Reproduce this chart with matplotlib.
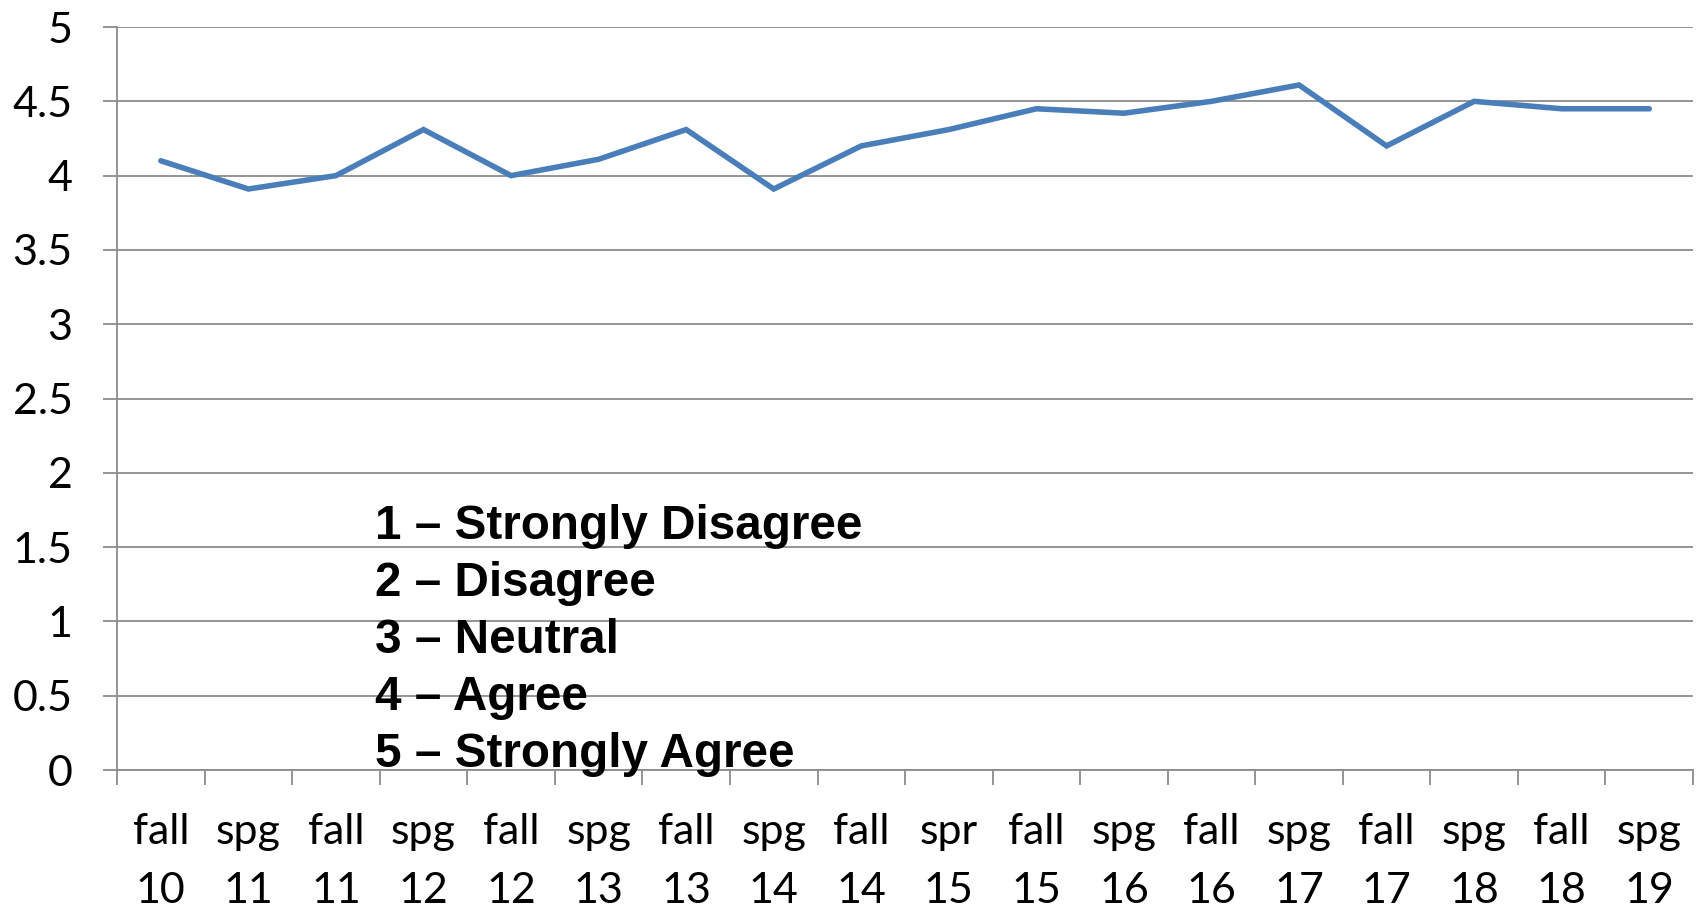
import matplotlib
matplotlib.use("Agg")
import matplotlib.pyplot as plt
import numpy as np

semesters = ["fall\n10", "spg\n11", "fall\n11", "spg\n12", "fall\n12", "spg\n13",
             "fall\n13", "spg\n14", "fall\n14", "spr\n15", "fall\n15", "spg\n16",
             "fall\n16", "spg\n17", "fall\n17", "spg\n18", "fall\n18", "spg\n19"]
scores = [4.10, 3.91, 4.00, 4.31, 4.00, 4.11, 4.31, 3.91, 4.20, 4.31,
          4.45, 4.42, 4.50, 4.61, 4.20, 4.50, 4.45, 4.45]
y_ticks = [0, 0.5, 1, 1.5, 2, 2.5, 3, 3.5, 4, 4.5, 5]
y_labels = ["0", "0.5", "1", "1.5", "2", "2.5", "3", "3.5", "4", "4.5", "5"]
scale_labels = ["1 \u2013 Strongly Disagree", "2 \u2013 Disagree", "3 \u2013 Neutral",
                "4 \u2013 Agree", "5 \u2013 Strongly Agree"]

grid_color = "#8c8c8c"
line_color = "#4a7ebb"

fig = plt.figure(figsize=(16.99, 9.10), dpi=100)
ax = fig.add_axes([0.0689, 0.1538, 0.9276, 0.8165])

x = np.arange(len(semesters))
ax.plot(x, scores, color=line_color, linewidth=4.0, solid_capstyle="round",
        solid_joinstyle="miter", zorder=3)

ax.set_xlim(-0.5, len(semesters) - 0.5)
ax.set_ylim(0, 5)

ax.set_yticks(y_ticks)
ax.set_yticklabels(y_labels, family=["Lato", "DejaVu Sans"], fontsize=31)
ax.yaxis.grid(True, color=grid_color, linewidth=1.3)
ax.set_axisbelow(True)

ax.set_xticks(x)
ax.set_xticklabels(semesters, family=["Lato", "DejaVu Sans"], fontsize=31,
                   linespacing=1.68)
ax.set_xticks(np.arange(len(semesters) + 1) - 0.5, minor=True)

ax.tick_params(axis="x", which="major", length=0, pad=31)
ax.tick_params(axis="x", which="minor", length=11, width=1.3, color=grid_color,
               direction="out")
ax.tick_params(axis="y", which="major", length=10, width=1.3, color=grid_color,
               direction="out", pad=22)

for side in ["top", "right"]:
    ax.spines[side].set_visible(False)
for side in ["left", "bottom"]:
    ax.spines[side].set_color(grid_color)
    ax.spines[side].set_linewidth(1.3)

# scale legend drawn as plain bold text inside the plot
for i, label in enumerate(scale_labels):
    ax.text(0.1637, 0.3105 - i * 0.0765, label, transform=ax.transAxes,
            family=["Liberation Sans", "DejaVu Sans"], fontweight="bold",
            fontsize=34.3, va="baseline", ha="left", zorder=4)

fig.savefig("out.png", dpi=100)
